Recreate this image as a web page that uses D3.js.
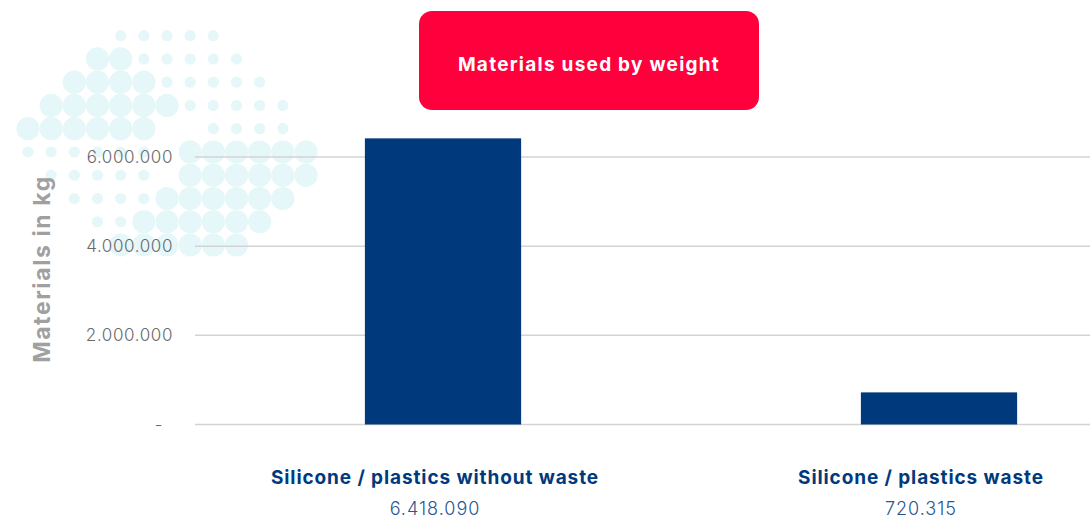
<!DOCTYPE html>
<html>
<head>
<meta charset="utf-8">
<script src="https://cdn.jsdelivr.net/npm/d3@7"></script>
<style>
  html, body { margin: 0; padding: 0; background: #fff; overflow: hidden; }
  svg { display: block; }
</style>
</head>
<body>
<svg id="chart" width="1090" height="520"></svg>
<script>
// chart data
const categories = ["Silicone / plastics without waste", "Silicone / plastics waste"];
const values = [6418090, 720315];
const valueLabels = ["6.418.090", "720.315"];
const yTicks = [0, 2000000, 4000000, 6000000];
const chartTitle = "Materials used by weight";
const yTitle = "Materials in kg";

// background dot pattern: L = large dot, s = small dot, . = empty
const dotRows = [
  "....sssss....",
  "...LLsssss...",
  "..LLLLsssss..",
  ".LLLLLLsssss.",
  "LLLLLL..ssss.",
  "ssssss.LLLLLL",
  ".sssss.LLLLLL",
  "..ssssLLLLLL.",
  "...ssLLLLLL..",
  "....LLLLLL..."
];

const width = 1090, height = 520;
const svg = d3.select("#chart");

const loc = d3.formatLocale({ decimal: ",", thousands: ".", grouping: [3], currency: ["", ""] });
const fmt = loc.format(",d");

// scales
const y = d3.scaleLinear().domain([0, 6000000]).range([424.5, 157]);
const x = d3.scaleBand().domain(categories).range([195, 1187]).paddingInner(0.685).paddingOuter(0.3425);
const xLabel = d3.scaleBand().domain(categories).range([192, 1164]);

const dotX = d3.scaleLinear().domain([0, 12]).range([28, 306]);
const dotY = d3.scaleLinear().domain([0, 9]).range([35.7, 245]);

// dots
const dots = [];
dotRows.forEach((row, j) => {
  row.split("").forEach((c, i) => {
    if (c !== ".") dots.push({ i, j, big: c === "L" });
  });
});
svg.append("g")
  .selectAll("circle")
  .data(dots)
  .join("circle")
  .attr("cx", d => dotX(d.i))
  .attr("cy", d => dotY(d.j))
  .attr("r", d => d.big ? 11.6 : 5.6)
  .attr("fill", "#e6f7f9");

// gridlines
svg.append("g")
  .selectAll("line")
  .data(yTicks)
  .join("line")
  .attr("x1", 195)
  .attr("x2", width)
  .attr("y1", d => y(d))
  .attr("y2", d => y(d))
  .attr("stroke", "#d3d3d3")
  .attr("stroke-width", 1.5);

// tick labels
svg.append("g")
  .selectAll("text")
  .data(yTicks)
  .join("text")
  .attr("x", d => d === 0 ? 163 : 173)
  .attr("y", d => y(d))
  .attr("dy", "0.36em")
  .attr("text-anchor", "end")
  .attr("font-family", "'Inter', sans-serif")
  .attr("font-weight", 300)
  .attr("font-size", 17)
  .attr("letter-spacing", 0.6)
  .attr("fill", "#6a6a6a")
  .text(d => d === 0 ? "-" : fmt(d));

// y axis title
svg.append("text")
  .attr("transform", "translate(50,269) rotate(-90)")
  .attr("text-anchor", "middle")
  .attr("font-family", "'Inter', sans-serif")
  .attr("font-weight", 700)
  .attr("font-size", 23)
  .attr("letter-spacing", 1.6)
  .attr("fill", "#a0a0a0")
  .text(yTitle);

// bars
svg.append("g")
  .selectAll("rect")
  .data(values)
  .join("rect")
  .attr("x", (d, i) => x(categories[i]))
  .attr("width", x.bandwidth())
  .attr("y", d => y(d))
  .attr("height", d => y(0) - y(d))
  .attr("fill", "#003a7c");

// category labels
svg.append("g")
  .selectAll("text")
  .data(categories)
  .join("text")
  .attr("x", d => xLabel(d) + xLabel.bandwidth() / 2)
  .attr("y", 484)
  .attr("text-anchor", "middle")
  .attr("font-family", "'Inter', sans-serif")
  .attr("font-weight", 700)
  .attr("font-size", 19)
  .attr("letter-spacing", 0.9)
  .attr("fill", "#003a7c")
  .text(d => d);

// value labels
svg.append("g")
  .selectAll("text")
  .data(valueLabels)
  .join("text")
  .attr("x", (d, i) => xLabel(categories[i]) + xLabel.bandwidth() / 2)
  .attr("y", 515)
  .attr("text-anchor", "middle")
  .attr("font-family", "'Inter', sans-serif")
  .attr("font-weight", 300)
  .attr("font-size", 18)
  .attr("letter-spacing", 1)
  .attr("fill", "#2a5591")
  .text(d => d);

// title box
const tb = svg.append("g");
tb.append("rect")
  .attr("x", 419)
  .attr("y", 11)
  .attr("width", 340)
  .attr("height", 99)
  .attr("rx", 13)
  .attr("fill", "#ff003c");
tb.append("text")
  .attr("x", 589)
  .attr("y", 71)
  .attr("text-anchor", "middle")
  .attr("font-family", "'Inter', sans-serif")
  .attr("font-weight", 700)
  .attr("font-size", 19)
  .attr("letter-spacing", 1.25)
  .attr("fill", "#fff")
  .text(chartTitle);
</script>
</body>
</html>
